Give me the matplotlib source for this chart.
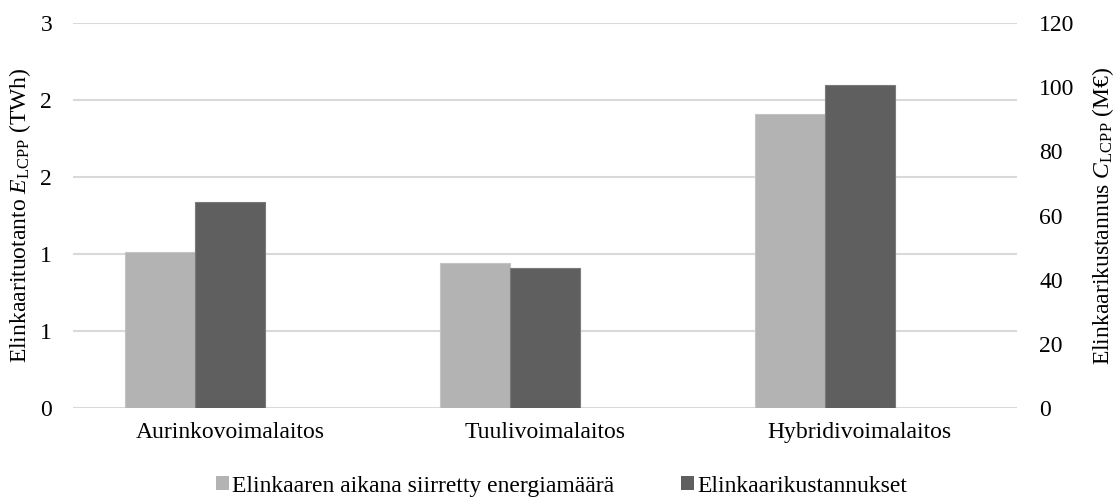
import matplotlib.pyplot as plt
import numpy as np
from matplotlib.patches import Patch
from matplotlib.ticker import FuncFormatter

plt.rcParams.update({
    'font.family': 'serif',
    'font.serif': ['Liberation Serif', 'DejaVu Serif'],
    'mathtext.fontset': 'custom',
    'mathtext.rm': 'Liberation Serif',
    'mathtext.it': 'Liberation Serif:italic',
    'font.size': 17,
})

plants = ['Aurinkovoimalaitos', 'Tuulivoimalaitos', 'Hybridivoimalaitos']
energy_twh = [1.01, 0.94, 1.91]        # left axis
cost_meur = [64.3, 43.6, 100.7]        # right axis
series_names = ['Elinkaaren aikana siirretty energiamäärä', 'Elinkaarikustannukset']

light = '#b3b3b3'
dark = '#5f5f5f'
grid = '#d9d9d9'

fig = plt.figure(figsize=(11.14, 4.98), dpi=100)
ax = fig.add_axes([0.0655, 0.1807, 0.8475, 0.7731])
ax2 = ax.twinx()

x = np.arange(len(plants))
w = 0.2224
# three slots per category, the third one stays empty
ax.bar(x - w, energy_twh, w, color=light, edgecolor='#c4c4c4', linewidth=0.8, zorder=3)
ax2.bar(x, cost_meur, w, color=dark, edgecolor='#7a7a7a', linewidth=0.8, zorder=3)

ax.set_xlim(-0.5, 2.5)
ax.set_ylim(0, 2.5)
ax.set_yticks(np.arange(0, 2.51, 0.5))
ax.yaxis.set_major_formatter(FuncFormatter(lambda v, p: '%d' % int(np.floor(v + 0.5))))
ax2.set_ylim(0, 120)
ax2.set_yticks(np.arange(0, 121, 20))

ax.set_xticks(x)
ax.set_xticklabels(plants)
ax.yaxis.grid(True, color=grid, linewidth=1.5, zorder=0)
ax.set_axisbelow(True)

for a in (ax, ax2):
    for s in a.spines.values():
        s.set_visible(False)
    a.tick_params(length=0)
ax.tick_params(axis='x', pad=10)
ax.tick_params(axis='y', pad=15)
ax2.tick_params(axis='y', pad=16)

ax.set_ylabel(r'Elinkaarituotanto $E_{\mathrm{LCPP}}$ (TWh)', labelpad=5)
ax2.set_ylabel(r'Elinkaarikustannus $C_{\mathrm{LCPP}}$ (M€)', labelpad=11)

handles = [Patch(facecolor=light, edgecolor='none'), Patch(facecolor=dark, edgecolor='none')]
fig.legend(handles, series_names, loc='center', bbox_to_anchor=(0.504, 0.024),
           ncol=2, frameon=False, handlelength=0.55, handleheight=0.55,
           handletextpad=0.15, columnspacing=2.8, borderpad=0)

plt.savefig('out.png', dpi=100)
